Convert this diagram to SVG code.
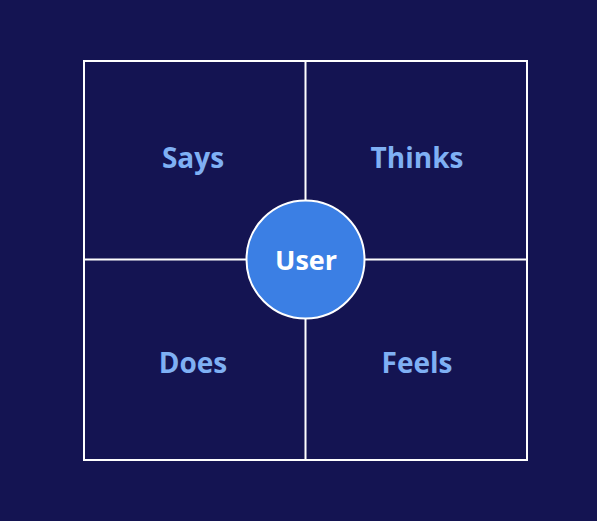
<svg xmlns="http://www.w3.org/2000/svg" width="597" height="521" viewBox="0 0 597 521">
<style>
.q{font-family:"Open Sans","Liberation Sans",sans-serif;font-weight:700;font-size:28px;fill:#7fb0f4;text-anchor:middle}
.ln{stroke:#ffffff;stroke-width:2;fill:none}
.u{font-family:"Open Sans","Liberation Sans",sans-serif;font-weight:700;font-size:27px;fill:#ffffff;text-anchor:middle}
</style>
<rect width="597" height="521" fill="#141452"/>
<g id="connectors">
<rect class="ln" x="84" y="61" width="443" height="399"/>
<line class="ln" x1="305.5" y1="61" x2="305.5" y2="460"/>
<line class="ln" x1="84" y1="259.5" x2="527" y2="259.5"/>
</g>
<g id="says"><text class="q" x="193" y="168">Says</text></g>
<g id="thinks"><text class="q" x="417" y="168">Thinks</text></g>
<g id="does"><text class="q" x="193" y="373">Does</text></g>
<g id="feels"><text class="q" x="417" y="373">Feels</text></g>
<g id="user">
<circle cx="305.5" cy="259.5" r="59" fill="#3b7fe4" stroke="#ffffff" stroke-width="2"/>
<text class="u" x="306" y="270">User</text>
</g>
</svg>
